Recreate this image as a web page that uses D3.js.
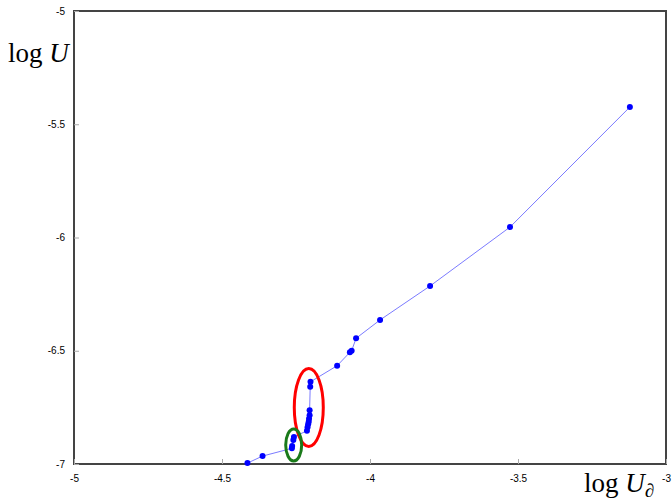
<!DOCTYPE html>
<html>
<head>
<meta charset="utf-8">
<script src="https://cdn.jsdelivr.net/npm/d3@7"></script>
<style>
	body { margin: 0; background: #fff; }
	.tick text { font-family: "Liberation Sans", Arial, sans-serif; font-size: 10px; fill: #000; }
	.math { font-family: "Liberation Serif", "DejaVu Serif", serif; fill: #000; }
</style>
</head>
<body>
<svg id="chart"></svg>
<script>
// log U_d (x) and log U (y) for each step
const logUd = [-4.414, -4.363, -4.264, -4.263, -4.259, -4.257,
	-4.213, -4.211, -4.209, -4.207, -4.206, -4.204, -4.204, -4.202, -4.201,
	-4.111, -4.068, -4.062, -4.047, -3.966, -3.797, -3.527, -3.122];
const logU = [-6.996, -6.965, -6.931, -6.921, -6.894, -6.881,
	-6.853, -6.838, -6.824, -6.814, -6.800, -6.785, -6.763, -6.659, -6.637,
	-6.566, -6.507, -6.500, -6.445, -6.364, -6.214, -5.954, -5.424];
const xTicks = [-5, -4.5, -4, -3.5, -3];
const yTicks = [-5, -5.5, -6, -6.5, -7];
// highlighted groups: centre x, centre y, radius x, radius y (data units)
const ringNames = ["red", "green"];
const ringCx = [-4.2068, -4.2578];
const ringCy = [-6.7506, -6.916];
const ringRx = [0.049, 0.027];
const ringRy = [0.172, 0.0706];

const svgWidth = 672, svgHeight = 504;
const margin = {top: 11, right: 6, bottom: 40, left: 74};
const width = svgWidth - margin.left - margin.right,
	height = svgHeight - margin.top - margin.bottom;

const svg = d3.select("#chart").attr("width", svgWidth).attr("height", svgHeight);
const g = svg.append("g").attr("transform", "translate(" + margin.left + "," + margin.top + ")");

const x = d3.scaleLinear().domain([-5, -3]).range([0, width]);
const y = d3.scaleLinear().domain([-7, -5]).range([height, 0]);

// frame
g.append("rect")
	.attr("width", width).attr("height", height)
	.style("fill", "none").style("stroke", "#444").style("stroke-width", 2);

// axes with inward ticks
const fmt = d => d3.format("")(d).replace("−", "-");
const xAxis = g.append("g").attr("transform", "translate(0," + height + ")")
	.call(d3.axisBottom(x).tickValues(xTicks).tickSizeInner(-5).tickSizeOuter(0).tickPadding(11).tickFormat(fmt));
const yAxis = g.append("g")
	.call(d3.axisLeft(y).tickValues(yTicks).tickSizeInner(-5).tickSizeOuter(0).tickPadding(9).tickFormat(fmt));
[xAxis, yAxis].forEach(a => {
	a.select(".domain").remove();
	a.selectAll(".tick line").style("stroke", "#aaa");
});

// line and markers
const pts = logUd.map((d, i) => [d, logU[i]]);
g.append("path")
	.datum(pts)
	.attr("d", d3.line().x(d => x(d[0])).y(d => y(d[1])))
	.style("fill", "none").style("stroke", "#7b7bff").style("stroke-width", 1);
g.selectAll(".dot")
	.data(pts)
	.enter().append("circle")
	.attr("class", "dot")
	.attr("cx", d => x(d[0])).attr("cy", d => y(d[1]))
	.attr("r", 3)
	.style("fill", "#0000ff");

// highlight rings
g.selectAll(".ring")
	.data(ringNames)
	.enter().append("ellipse")
	.attr("class", "ring")
	.attr("cx", (d, i) => x(ringCx[i])).attr("cy", (d, i) => y(ringCy[i]))
	.attr("rx", (d, i) => x(ringCx[i] + ringRx[i]) - x(ringCx[i]))
	.attr("ry", (d, i) => y(ringCy[i]) - y(ringCy[i] + ringRy[i]))
	.style("fill", "none")
	.style("stroke", d => d === "red" ? "#ff0000" : "#1a7a1a")
	.style("stroke-width", 3);

// axis titles
const yl = svg.append("text").attr("class", "math").attr("x", 8).attr("y", 62).style("font-size", "27px");
yl.append("tspan").text("log ");
yl.append("tspan").style("font-style", "italic").text("U");

const xl = svg.append("text").attr("class", "math").attr("x", 584).attr("y", 492).style("font-size", "27px");
xl.append("tspan").text("log ");
xl.append("tspan").style("font-style", "italic").text("U");
xl.append("tspan").attr("dy", 5).style("font-size", "19px").style("font-style", "italic").text("∂");
</script>
</body>
</html>
